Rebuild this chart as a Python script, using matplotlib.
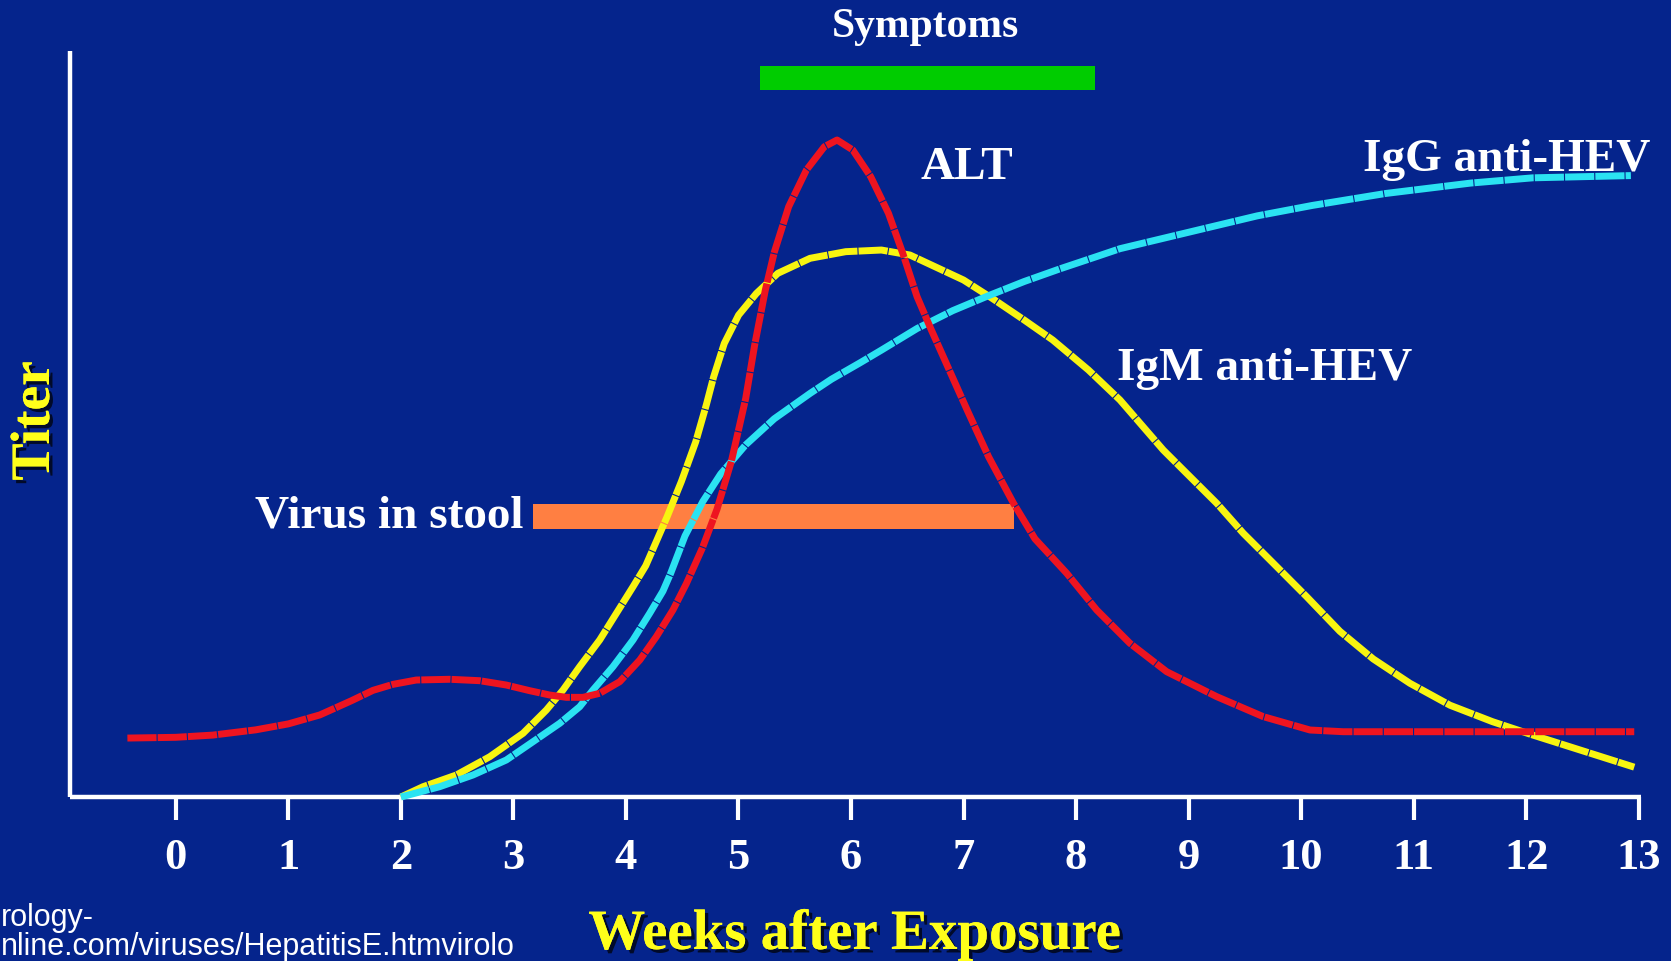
import matplotlib
matplotlib.use("Agg")
import matplotlib.pyplot as plt
import matplotlib.patheffects as pe

W, H = 1671, 961
BG = "#05248C"
SERIF = ["Liberation Serif", "DejaVu Serif"]

# ---- data (weeks after exposure, titer in arbitrary 0-100 units) ----
week_ticks = list(range(0, 14))
tick_labels = [str(w) for w in week_ticks]

alt_weeks = [-0.43, 0.0, 0.33, 0.71, 1.0, 1.28, 1.56, 1.753, 1.930, 2.137, 2.434,
             2.701, 2.937, 3.145, 3.323, 3.470, 3.619, 3.767, 3.945, 4.123, 4.270,
             4.418, 4.537, 4.68, 4.810, 4.937, 5.064, 5.143, 5.238, 5.318, 5.446, 5.604,
             5.763, 5.876, 6.016, 6.175, 6.333, 6.460, 6.587, 6.714, 6.873, 7.032,
             7.222, 7.444, 7.635, 7.917, 8.183, 8.479, 8.805, 9.250, 9.664, 10.079,
             10.375, 12.96]
alt_titer = [7.9, 8.0, 8.3, 9.0, 9.8, 11.0, 12.9, 14.3, 15.1, 15.68, 15.78,
             15.59, 15.01, 14.25, 13.67, 13.36, 13.36, 13.90, 15.46, 18.36, 21.49,
             25.07, 28.6, 33.4, 38.6, 45.0, 53.4, 60.5, 67.9, 73.0, 79.13, 84.05,
             87.17, 88.07, 86.73, 83.15, 78.24, 72.88, 67.07, 62.60, 57.24, 51.88,
             45.62, 39.37, 34.6, 29.99, 25.07, 20.60, 16.80, 13.45, 10.77, 8.98,
             8.75, 8.75]

igm_weeks = [2.0, 2.197, 2.493, 2.790, 3.086, 3.293, 3.441, 3.589, 3.767, 3.915,
             4.063, 4.176, 4.366, 4.493, 4.620, 4.715, 4.779, 4.874, 5.001, 5.159,
             5.350, 5.636, 5.953, 6.270, 6.524, 6.746, 7.000, 7.254, 7.539, 7.793,
             8.110, 8.390, 8.775, 8.953, 9.250, 9.486, 9.753, 10.049, 10.345, 10.641,
             10.967, 11.323, 11.70, 12.06, 12.96]
igm_titer = [0.0, 1.38, 2.95, 5.40, 8.54, 11.66, 14.34, 17.47, 21.05, 24.62,
             28.19, 31.0, 37.57, 42.3, 47.6, 52.6, 56.3, 60.8, 64.6, 67.5,
             70.20, 72.21, 73.10, 73.32, 72.65, 71.09, 69.30, 66.85, 63.94, 61.26,
             57.24, 53.22, 46.51, 43.83, 39.37, 35.35, 31.33, 26.85, 22.2, 18.5,
             15.24, 12.3, 10.1, 8.3, 4.0]

igg_weeks = [2.0, 2.345, 2.641, 2.937, 3.174, 3.412, 3.589, 3.707, 3.885, 4.063,
             4.211, 4.329, 4.398, 4.525, 4.683, 4.842, 5.064, 5.318, 5.636, 5.826,
             6.080, 6.270, 6.587, 6.905, 7.222, 7.539, 7.857, 8.174, 8.390, 9.11,
             9.61, 10.10, 10.75, 11.51, 12.06, 12.93]
igg_titer = [0.0, 1.38, 2.95, 4.96, 7.41, 9.88, 12.10, 14.34, 17.47, 21.05,
             24.62, 27.6, 30.0, 35.0, 39.6, 43.3, 47.2, 50.7, 54.1, 56.0,
             58.2, 59.9, 62.8, 65.2, 67.2, 69.1, 70.8, 72.4, 73.5, 76.1,
             77.9, 79.3, 80.9, 82.3, 83.0, 83.3]

virus_start, virus_end, virus_level = 3.17, 7.45, 37.6
symptom_start, symptom_end, symptom_level = 5.19, 8.17, 96.4

# ---- figure ----
fig = plt.figure(figsize=(W / 100, H / 100), dpi=100)
fig.patch.set_facecolor(BG)

def px(x, y):
    return x / W, 1 - y / H

ax = fig.add_axes([70 / W, 164 / H, (1641 - 70) / W, (797 - 51) / H])
ax.set_facecolor(BG)
ax.set_xlim(-0.94, 13.02)
ax.set_ylim(0, 100)

for s in ["top", "right"]:
    ax.spines[s].set_visible(False)
for s in ["left", "bottom"]:
    ax.spines[s].set_color("white")
    ax.spines[s].set_linewidth(3.2)
    ax.spines[s].set_capstyle("butt")

ax.set_xticks(week_ticks)
ax.set_xticklabels(tick_labels, fontfamily=SERIF, fontweight="bold",
                   fontsize=32, color="white")
ax.tick_params(axis="x", direction="out", length=16.5, width=3, color="white", pad=13)
ax.set_yticks([])

# bars
ax.barh(virus_level, virus_end - virus_start, left=virus_start, height=3.3,
        color="#FF7F42", zorder=2)
ax.barh(symptom_level, symptom_end - symptom_start, left=symptom_start, height=3.3,
        color="#00CC00", zorder=2, clip_on=False)

lw = 5.0
dash = (0, (4.2, 0.16))
common = dict(lw=lw, linestyle=dash, dash_capstyle="butt", dash_joinstyle="round",
              clip_on=False)
ax.plot(igm_weeks, igm_titer, color="#F8F510", zorder=3, **common)
ax.plot(igg_weeks, igg_titer, color="#2BE3F2", zorder=4, **common)
ax.plot(alt_weeks, alt_titer, color="#EE1420", zorder=5, **common)

# labels
lab = dict(fontfamily=SERIF, fontweight="bold", color="white",
           ha="center", va="center", zorder=10)
fig.text(*px(925, 27), "Symptoms", fontsize=30, **lab)
fig.text(*px(967, 168), "ALT", fontsize=34, **lab)
fig.text(*px(1507, 160), "IgG anti-HEV", fontsize=34, **lab)
fig.text(*px(1265, 369), "IgM anti-HEV", fontsize=34, **lab)
fig.text(*px(389, 517), "Virus in stool", fontsize=34, **lab)

shadow = [pe.withSimplePatchShadow(offset=(2.5, -2.5), shadow_rgbFace="black", alpha=0.7),
          pe.Normal()]
fig.text(*px(855, 935), "Weeks after Exposure", fontsize=41, fontfamily=SERIF,
         fontweight="bold", color="#FFFF1A", ha="center", va="center",
         path_effects=shadow)
fig.text(*px(35, 421), "Titer", fontsize=40, fontfamily=SERIF, fontweight="bold",
         color="#FFFF1A", ha="center", va="center", rotation=90, path_effects=shadow)

src = dict(fontfamily=["Liberation Sans", "DejaVu Sans"], fontsize=22, color="white",
           ha="left", va="baseline")
fig.text(*px(1, 926), "rology-", **src)
fig.text(*px(1, 955), "nline.com/viruses/HepatitisE.htmvirolo", **src)

fig.savefig("out.png", dpi=100, facecolor=BG)
